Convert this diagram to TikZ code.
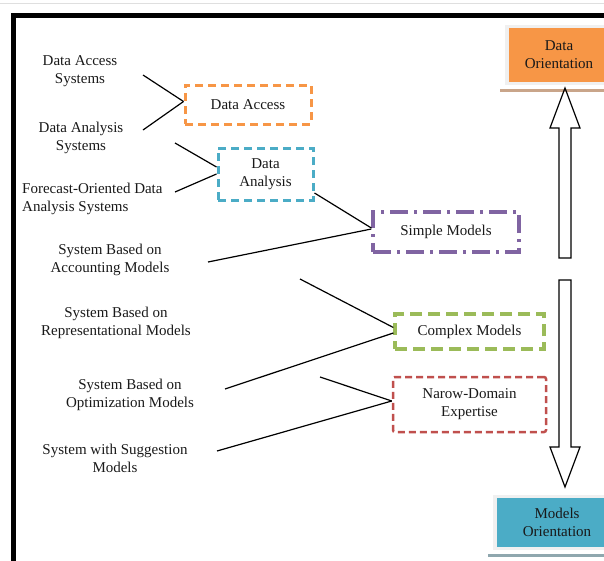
\documentclass[tikz,border=0pt]{standalone}
\usepackage{fontspec}
\setmainfont{Liberation Serif}
\usetikzlibrary{positioning}

\definecolor{accorange}{HTML}{F79646}
\definecolor{anablue}{HTML}{4BACC6}
\definecolor{simpurple}{HTML}{8064A2}
\definecolor{comgreen}{HTML}{9BBB59}
\definecolor{narred}{HTML}{C0504D}
\definecolor{orbrown}{HTML}{C9A58A}
\definecolor{orgray}{HTML}{8FA7AE}

\begin{document}
\begin{tikzpicture}[x=1pt,y=-1pt,
    every node/.style={font=\fontsize{15}{18}\selectfont,text=black!90},
    txt/.style={align=center,inner sep=0pt},
    kind/.style={align=center,inner sep=0pt,line width=3pt},
    orient/.style={align=center,inner sep=0pt,draw=gray!12,line width=3.5pt},
    conn/.style={black,line width=1.2pt},
    hollow/.style={black,line width=1.2pt,line join=miter}]

      \clip (0,0) rectangle (604,560);
      \draw[gray!25,line width=1pt] (0,3.5) -- (604,3.5);
      \draw[line width=5pt] (13,570) -- (13,15) -- (610,15);

      % orientation boxes
      \node[orient,fill=accorange,minimum width=104pt,minimum height=57pt] (dor) at (559,55) {Data\\Orientation};
      \fill[orbrown] ([xshift=-5pt,yshift=-4pt]dor.south west) rectangle ([yshift=-7pt]dor.south east);
      \node[orient,fill=anablue,minimum width=124pt,minimum height=52pt] (mor) at (557,522.5) {Models\\Orientation};
      \fill[orgray] ([xshift=-5pt,yshift=-4pt]mor.south west) rectangle ([yshift=-7pt]mor.south east);

      % big hollow arrows
      \draw[hollow] (565,88) -- (580,128) -- (571,128) -- (571,258) -- (559,258) -- (559,128) -- (550,128) -- cycle;
      \draw[hollow] (559,280) -- (571,280) -- (571,447) -- (580,447) -- (565,487) -- (550,447) -- (559,447) -- cycle;

      % kinds
      \node[kind,draw=accorange,dash pattern=on 8pt off 5pt,minimum width=126pt,minimum height=39pt] (dacc) at (248,104.5) {Data Access};
      \node[kind,draw=anablue,dash pattern=on 8pt off 5pt,minimum width=95pt,minimum height=52pt] (dana) at (265.5,174) {Data\\Analysis};
      \node[kind,draw=simpurple,line width=3.3pt,dash pattern=on 18pt off 6pt on 3pt off 6pt,minimum width=146pt,minimum height=40pt] (smod) at (446,232) {Simple Models};
      \node[kind,draw=comgreen,line width=3.3pt,dash pattern=on 12pt off 6pt,minimum width=149pt,minimum height=35pt] (cmod) at (469.5,331.5) {Complex Models};
      \node[kind,draw=narred,line width=2.5pt,rounded corners=2pt,dash pattern=on 7pt off 4pt,minimum width=153pt,minimum height=55pt] (nexp) at (469.5,404.5) {Narow-Domain\\Expertise};

      % systems
      \node[txt] (dasys) at (80,71) {Data Access\\Systems};
      \node[txt] (dansys) at (81,138) {Data Analysis\\Systems};
      \node[txt,align=left,anchor=west] (fcsys) at (22,199) {Forecast-Oriented Data\\Analysis Systems};
      \node[txt] (accsys) at (110,259.5) {System Based on\\Accounting Models};
      \node[txt] (repsys) at (116,323) {System Based on\\Representational Models};
      \node[txt] (optsys) at (130,395) {System Based on\\Optimization Models};
      \node[txt] (sugsys) at (115,458) {System with Suggestion\\Models};

      \coordinate (a1) at (143,75);
      \coordinate (a2) at (143,130);
      \coordinate (b1) at (175,143);
      \coordinate (b2) at (175,192);
      \coordinate (c1) at (208,262);
      \coordinate (d1) at (300,279);
      \coordinate (d2) at (225,389);
      \coordinate (e1) at (320,377);
      \coordinate (e2) at (217,451);

      \path[conn] (a1) edge ([yshift=3pt]dacc.west);
      \path[conn] (a2) edge ([yshift=3pt]dacc.west);
      \path[conn] (b1) edge ([yshift=7pt]dana.west);
      \path[conn] (b2) edge ([yshift=0pt]dana.west);
      \path[conn] ([yshift=-19pt]dana.east) edge ([yshift=4pt]smod.west);
      \path[conn] (c1) edge ([yshift=3pt]smod.west);
      \path[conn] (d1) edge ([yshift=4pt]cmod.west);
      \path[conn] (d2) edge ([yshift=-1.5pt]cmod.west);
      \path[conn] (e1) edge ([yshift=3.5pt]nexp.west);
      \path[conn] (e2) edge ([yshift=3.5pt]nexp.west);

    \end{tikzpicture}
\end{document}
